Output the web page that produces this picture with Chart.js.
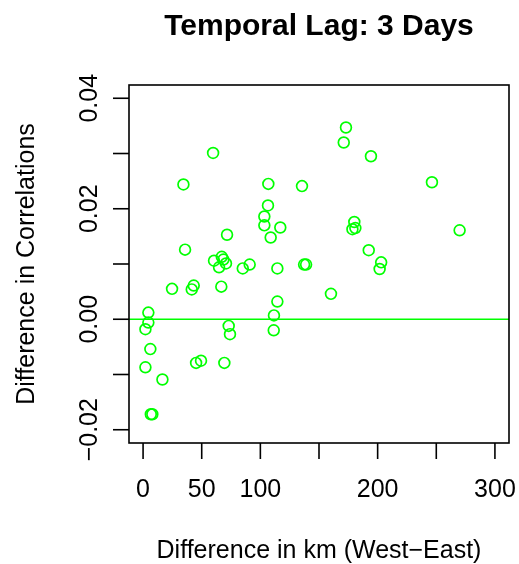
<!DOCTYPE html>
<html>
<head>
<meta charset="utf-8">
<script src="https://cdn.jsdelivr.net/npm/chart.js"></script>
<style>
  html, body { margin: 0; padding: 0; background: #fff; }
  canvas { display: block; }
</style>
</head>
<body>
<canvas id="chart" width="519" height="564"></canvas>
<script>
// Difference in km (West-East) vs difference in correlations, lag 3 days
const distKm = [
  59.7, 34.4, 106.8, 135.5, 106.5, 103.4, 103.4, 117.0, 108.8, 71.6,
  35.8, 173.0, 171.1, 194.3, 246.3, 180.1, 178.5, 181.0, 269.9, 192.4,
  60.5, 67.1, 68.5, 70.7, 64.8, 85.0, 90.9, 114.5, 137.3, 139.0,
  24.7, 41.5, 43.2, 66.7, 114.5, 111.6, 111.4, 4.5, 4.5, 2.0,
  73.0, 74.1, 6.2, 2.0, 16.5, 45.2, 49.4, 69.3, 6.6, 7.9,
  203.0, 201.7, 160.2
]
const corrDiff = [
  0.0301, 0.0244, 0.0245, 0.0241, 0.0206, 0.0186, 0.0170, 0.0166, 0.0148, 0.0153,
  0.0126, 0.0347, 0.0320, 0.0295, 0.0248, 0.0176, 0.0163, 0.0165, 0.0161, 0.0125,
  0.0106, 0.0113, 0.0108, 0.0101, 0.0094, 0.0092, 0.0099, 0.0092, 0.0099, 0.0099,
  0.0055, 0.0054, 0.0061, 0.0059, 0.0032, 0.0007, -0.0020, 0.0012, -0.0006, -0.0018,
  -0.0012, -0.0027, -0.0054, -0.0087, -0.0109, -0.0079, -0.0075, -0.0079, -0.0172, -0.0172,
  0.0103, 0.0091, 0.0046
]

const xTicks = [0, 50, 100, 150, 200, 250, 300]
const xTickLabels = ['0', '50', '100', '', '200', '', '300']
const yTicks = [-0.02, -0.01, 0, 0.01, 0.02, 0.03, 0.04]
const yTickLabels = ['\u22120.02', '', '0.00', '', '0.02', '', '0.04']
const refLine = 0

const FONT = '"Liberation Sans", Arial, Helvetica, sans-serif'
const GREEN = '#00ff00'

const points = distKm.map((x, i) => ({ x, y: corrDiff[i] }))

// frame, ticks, labels and the abline, drawn R style
const baseAxes = {
  id: 'baseAxes',
  afterDraw(chart) {
    const ctx = chart.ctx
    const area = chart.chartArea
    const xs = chart.scales.x
    const ys = chart.scales.y

    ctx.save()

    // abline(h = 0)
    const y0 = ys.getPixelForValue(refLine)
    ctx.strokeStyle = GREEN
    ctx.lineWidth = 1.7
    ctx.beginPath()
    ctx.moveTo(area.left, y0)
    ctx.lineTo(area.right, y0)
    ctx.stroke()

    // box
    ctx.strokeStyle = '#000'
    ctx.lineWidth = 1.6
    ctx.strokeRect(area.left, area.top, area.right - area.left, area.bottom - area.top)

    // x ticks
    ctx.fillStyle = '#000'
    ctx.font = '25px ' + FONT
    ctx.textAlign = 'center'
    ctx.textBaseline = 'alphabetic'
    xTicks.forEach((v, i) => {
      const px = xs.getPixelForValue(v)
      ctx.beginPath()
      ctx.moveTo(px, area.bottom)
      ctx.lineTo(px, area.bottom + 16)
      ctx.stroke()
      if (xTickLabels[i]) ctx.fillText(xTickLabels[i], px, 497)
    })

    // y ticks
    yTicks.forEach((v, i) => {
      const py = ys.getPixelForValue(v)
      ctx.beginPath()
      ctx.moveTo(area.left, py)
      ctx.lineTo(area.left - 16, py)
      ctx.stroke()
      if (yTickLabels[i]) {
        ctx.save()
        ctx.translate(97, py)
        ctx.rotate(-Math.PI / 2)
        ctx.fillText(yTickLabels[i], 0, 0)
        ctx.restore()
      }
    })

    // axis titles
    const cx = (area.left + area.right) / 2
    const cy = (area.top + area.bottom) / 2
    ctx.fillText('Difference in km (West\u2212East)', cx, 558)
    ctx.save()
    ctx.translate(34, cy)
    ctx.rotate(-Math.PI / 2)
    ctx.fillText('Difference in Correlations', 0, 0)
    ctx.restore()

    // main title
    ctx.font = 'bold 30px ' + FONT
    ctx.fillText('Temporal Lag: 3 Days', cx, 34.5)

    ctx.restore()
  }
}

new Chart(document.getElementById('chart'), {
  type: 'scatter',
  data: {
    datasets: [{
      data: points,
      showLine: false,
      pointStyle: 'circle',
      pointRadius: 5.4,
      pointHoverRadius: 5.4,
      pointBorderWidth: 1.7,
      pointBorderColor: GREEN,
      pointBackgroundColor: 'rgba(0,0,0,0)'
    }]
  },
  options: {
    responsive: false,
    devicePixelRatio: 1,
    animation: false,
    events: [],
    layout: { padding: { left: 129, top: 85, right: 10, bottom: 121 } },
    plugins: {
      legend: { display: false },
      tooltip: { enabled: false },
      title: { display: false }
    },
    scales: {
      x: { type: 'linear', min: -12, max: 312, display: false },
      y: { type: 'linear', min: -0.0224, max: 0.0424, display: false }
    }
  },
  plugins: [baseAxes]
})
</script>
</body>
</html>
